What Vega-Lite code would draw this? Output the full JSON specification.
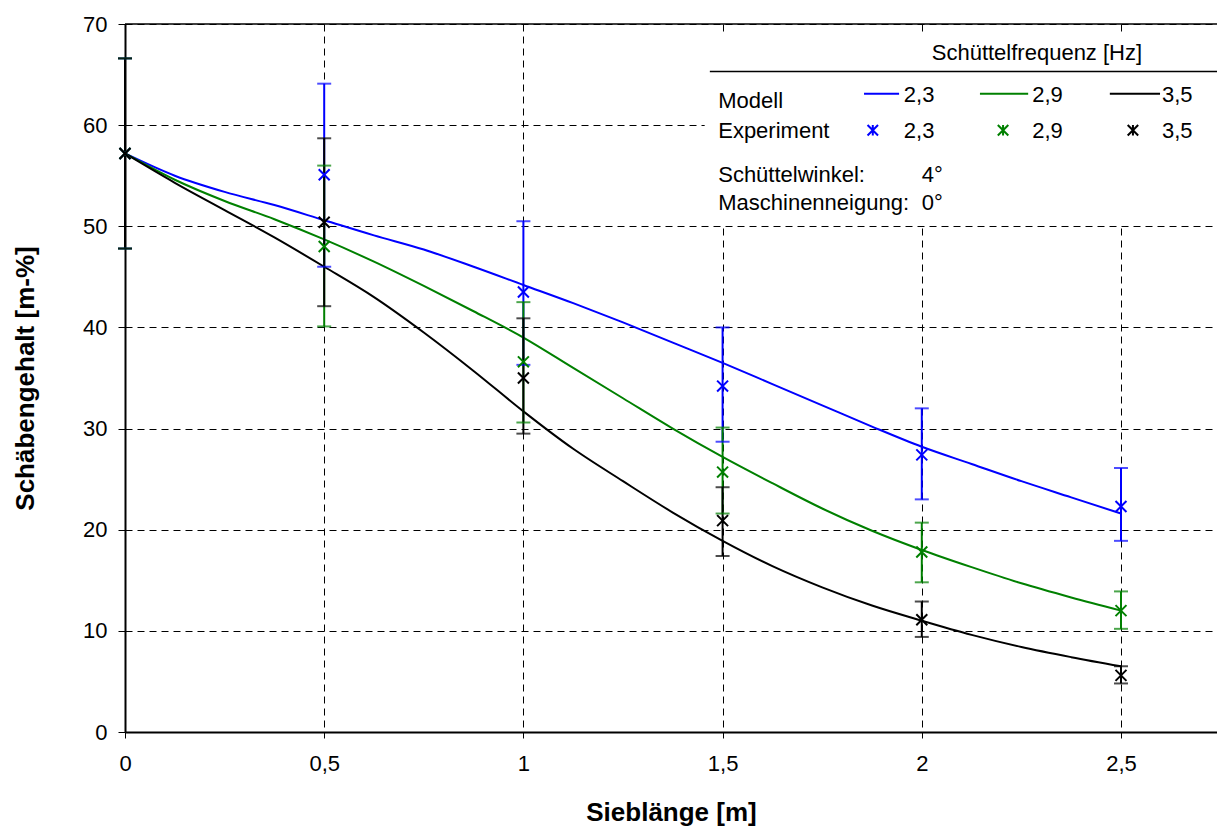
{
  "$schema": "https://vega.github.io/schema/vega-lite/v6.json",
  "width": 1092,
  "height": 708,
  "autosize": "none",
  "padding": {"left": 125, "top": 24, "right": 0, "bottom": 94},
  "background": "white",
  "config": {
    "font": "Liberation Sans",
    "view": {"stroke": null},
    "axis": {
      "grid": true, "gridColor": "#000000", "gridDash": [7, 5], "gridWidth": 1,
      "domainColor": "#000000", "tickColor": "#000000", "labelColor": "#000000", "titleColor": "#000000",
      "labelFontSize": 22, "titleFontSize": 26, "titleFontWeight": "bold",
      "labelFont": "Liberation Sans", "titleFont": "Liberation Sans",
      "labelFlush": false, "labelOverlap": false, "zindex": 0
    }
  },
  "datasets": {
    "model": [
      {"f": "2,3", "x": 0, "y": 57.2}, {"f": "2,3", "x": 0.125, "y": 55.0}, {"f": "2,3", "x": 0.25, "y": 53.4}, {"f": "2,3", "x": 0.375, "y": 52.1},
      {"f": "2,3", "x": 0.5, "y": 50.6}, {"f": "2,3", "x": 0.625, "y": 49.1}, {"f": "2,3", "x": 0.75, "y": 47.7}, {"f": "2,3", "x": 0.875, "y": 46.0},
      {"f": "2,3", "x": 1, "y": 44.2}, {"f": "2,3", "x": 1.125, "y": 42.4}, {"f": "2,3", "x": 1.25, "y": 40.5}, {"f": "2,3", "x": 1.375, "y": 38.5},
      {"f": "2,3", "x": 1.5, "y": 36.5}, {"f": "2,3", "x": 1.625, "y": 34.4}, {"f": "2,3", "x": 1.75, "y": 32.3}, {"f": "2,3", "x": 1.875, "y": 30.2},
      {"f": "2,3", "x": 2, "y": 28.2}, {"f": "2,3", "x": 2.125, "y": 26.5}, {"f": "2,3", "x": 2.25, "y": 24.8}, {"f": "2,3", "x": 2.375, "y": 23.2},
      {"f": "2,3", "x": 2.5, "y": 21.6},
      {"f": "2,9", "x": 0, "y": 57.2}, {"f": "2,9", "x": 0.125, "y": 54.6}, {"f": "2,9", "x": 0.25, "y": 52.5}, {"f": "2,9", "x": 0.375, "y": 50.7},
      {"f": "2,9", "x": 0.5, "y": 48.7}, {"f": "2,9", "x": 0.625, "y": 46.5}, {"f": "2,9", "x": 0.75, "y": 44.1}, {"f": "2,9", "x": 0.875, "y": 41.6},
      {"f": "2,9", "x": 1, "y": 39.0}, {"f": "2,9", "x": 1.125, "y": 36.0}, {"f": "2,9", "x": 1.25, "y": 33.0}, {"f": "2,9", "x": 1.375, "y": 30.0},
      {"f": "2,9", "x": 1.5, "y": 27.2}, {"f": "2,9", "x": 1.625, "y": 24.6}, {"f": "2,9", "x": 1.75, "y": 22.1}, {"f": "2,9", "x": 1.875, "y": 19.9},
      {"f": "2,9", "x": 2, "y": 18.0}, {"f": "2,9", "x": 2.125, "y": 16.3}, {"f": "2,9", "x": 2.25, "y": 14.7}, {"f": "2,9", "x": 2.375, "y": 13.3},
      {"f": "2,9", "x": 2.5, "y": 12.0},
      {"f": "3,5", "x": 0, "y": 57.2}, {"f": "3,5", "x": 0.125, "y": 54.3}, {"f": "3,5", "x": 0.25, "y": 51.6}, {"f": "3,5", "x": 0.375, "y": 48.9},
      {"f": "3,5", "x": 0.5, "y": 46.0}, {"f": "3,5", "x": 0.625, "y": 43.0}, {"f": "3,5", "x": 0.75, "y": 39.5}, {"f": "3,5", "x": 0.875, "y": 35.7},
      {"f": "3,5", "x": 1, "y": 31.7}, {"f": "3,5", "x": 1.125, "y": 28.0}, {"f": "3,5", "x": 1.25, "y": 24.8}, {"f": "3,5", "x": 1.375, "y": 21.7},
      {"f": "3,5", "x": 1.5, "y": 18.9}, {"f": "3,5", "x": 1.625, "y": 16.4}, {"f": "3,5", "x": 1.75, "y": 14.3}, {"f": "3,5", "x": 1.875, "y": 12.5},
      {"f": "3,5", "x": 2, "y": 11.0}, {"f": "3,5", "x": 2.125, "y": 9.6}, {"f": "3,5", "x": 2.25, "y": 8.4}, {"f": "3,5", "x": 2.375, "y": 7.4},
      {"f": "3,5", "x": 2.5, "y": 6.5}
    ],
    "exp": [
      {"f": "2,3", "x": 0, "y": 57.2, "lo": 47.8, "hi": 66.6},
      {"f": "2,3", "x": 0.5, "y": 55.1, "lo": 46.0, "hi": 64.1},
      {"f": "2,3", "x": 1, "y": 43.5, "lo": 36.3, "hi": 50.5},
      {"f": "2,3", "x": 1.5, "y": 34.2, "lo": 28.7, "hi": 40.0},
      {"f": "2,3", "x": 2, "y": 27.4, "lo": 23.0, "hi": 32.0},
      {"f": "2,3", "x": 2.5, "y": 22.3, "lo": 18.9, "hi": 26.1},
      {"f": "2,9", "x": 0, "y": 57.2, "lo": 47.8, "hi": 66.6},
      {"f": "2,9", "x": 0.5, "y": 48.0, "lo": 40.1, "hi": 56.0},
      {"f": "2,9", "x": 1, "y": 36.6, "lo": 30.6, "hi": 42.5},
      {"f": "2,9", "x": 1.5, "y": 25.7, "lo": 21.6, "hi": 30.1},
      {"f": "2,9", "x": 2, "y": 17.8, "lo": 14.8, "hi": 20.7},
      {"f": "2,9", "x": 2.5, "y": 12.0, "lo": 10.2, "hi": 13.9},
      {"f": "3,5", "x": 0, "y": 57.2, "lo": 47.8, "hi": 66.6},
      {"f": "3,5", "x": 0.5, "y": 50.4, "lo": 42.1, "hi": 58.7},
      {"f": "3,5", "x": 1, "y": 35.0, "lo": 29.5, "hi": 40.9},
      {"f": "3,5", "x": 1.5, "y": 20.9, "lo": 17.4, "hi": 24.2},
      {"f": "3,5", "x": 2, "y": 11.1, "lo": 9.4, "hi": 12.9},
      {"f": "3,5", "x": 2.5, "y": 5.6, "lo": 4.8, "hi": 6.5}
    ],
    "legendLines": [
      {"f": "2,3", "x": 1.855, "x2": 1.943, "y": 63.1},
      {"f": "2,9", "x": 2.146, "x2": 2.267, "y": 63.1},
      {"f": "3,5", "x": 2.472, "x2": 2.598, "y": 63.1}
    ],
    "legendMarks": [
      {"f": "2,3", "x": 1.877, "y": 59.5},
      {"f": "2,9", "x": 2.204, "y": 59.5},
      {"f": "3,5", "x": 2.530, "y": 59.5}
    ],
    "legendTexts": [
      {"x": 1.489, "y": 62.4, "t": "Modell"},
      {"x": 1.955, "y": 63.0, "t": "2,3"},
      {"x": 2.277, "y": 63.0, "t": "2,9"},
      {"x": 2.603, "y": 63.0, "t": "3,5"},
      {"x": 1.489, "y": 59.4, "t": "Experiment"},
      {"x": 1.955, "y": 59.4, "t": "2,3"},
      {"x": 2.277, "y": 59.4, "t": "2,9"},
      {"x": 2.603, "y": 59.4, "t": "3,5"},
      {"x": 1.489, "y": 55.1, "t": "Schüttelwinkel:"},
      {"x": 2.0, "y": 55.1, "t": "4°"},
      {"x": 1.489, "y": 52.3, "t": "Maschinenneigung:"},
      {"x": 2.0, "y": 52.3, "t": "0°"}
    ]
  },
  "layer": [
    {
      "data": {"values": [{"x": 1.455, "x2": 2.741, "y": 50.15, "y2": 69.2}]},
      "mark": {"type": "rect", "fill": "white", "stroke": null},
      "encoding": {
        "x": {"field": "x", "type": "quantitative",
              "scale": {"domain": [0, 2.741], "nice": false, "zero": false},
              "title": "Sieblänge [m]",
              "axis": {"values": [0, 0.5, 1, 1.5, 2, 2.5], "labelExpr": "replace(toString(datum.value), '.', ',')",
                       "domainWidth": 2, "tickSize": 6, "tickWidth": 1, "labelPadding": 15,
                       "titleY": 80, "titleBaseline": "middle"}},
        "x2": {"field": "x2"},
        "y": {"field": "y", "type": "quantitative",
              "scale": {"domain": [0, 70], "nice": false, "zero": false},
              "title": "Schäbengehalt [m-%]",
              "axis": {"values": [0, 10, 20, 30, 40, 50, 60, 70], "domainWidth": 2, "tickSize": 7, "tickWidth": 1,
                       "labelPadding": 11, "titleX": -100, "titleY": 354, "titleBaseline": "middle"}},
        "y2": {"field": "y2"}
      }
    },
    {
      "data": {"values": [{"y": 70}]},
      "mark": {"type": "rule", "color": "#000000", "strokeWidth": 1.5},
      "encoding": {
        "y": {"field": "y", "type": "quantitative", "title": "Schäbengehalt [m-%]"}
      }
    },
    {
      "data": {"name": "model"},
      "mark": {"type": "line", "strokeWidth": 2, "interpolate": "monotone"},
      "encoding": {
        "x": {"field": "x", "type": "quantitative", "title": "Sieblänge [m]"},
        "y": {"field": "y", "type": "quantitative", "title": "Schäbengehalt [m-%]"},
        "color": {"field": "f", "type": "nominal", "scale": {"domain": ["2,3", "2,9", "3,5"], "range": ["#0000ff", "#008000", "#000000"]}, "legend": null},
        "detail": {"field": "f"}
      }
    },
    {
      "data": {"name": "exp"},
      "mark": {"type": "rule", "strokeWidth": 2},
      "encoding": {
        "x": {"field": "x", "type": "quantitative", "title": "Sieblänge [m]"},
        "y": {"field": "lo", "type": "quantitative", "title": "Schäbengehalt [m-%]"},
        "y2": {"field": "hi"},
        "color": {"field": "f", "type": "nominal", "legend": null}
      }
    },
    {
      "data": {"name": "exp"},
      "mark": {"type": "tick", "orient": "horizontal", "size": 14, "thickness": 2},
      "encoding": {
        "x": {"field": "x", "type": "quantitative", "title": "Sieblänge [m]"},
        "y": {"field": "lo", "type": "quantitative", "title": "Schäbengehalt [m-%]"},
        "color": {"field": "f", "type": "nominal", "legend": null}
      }
    },
    {
      "data": {"name": "exp"},
      "mark": {"type": "tick", "orient": "horizontal", "size": 14, "thickness": 2},
      "encoding": {
        "x": {"field": "x", "type": "quantitative", "title": "Sieblänge [m]"},
        "y": {"field": "hi", "type": "quantitative", "title": "Schäbengehalt [m-%]"},
        "color": {"field": "f", "type": "nominal", "legend": null}
      }
    },
    {
      "data": {"name": "exp"},
      "mark": {"type": "point", "shape": "M-1,-1L1,1M1,-1L-1,1", "size": 120, "strokeWidth": 2, "filled": false, "opacity": 1},
      "encoding": {
        "x": {"field": "x", "type": "quantitative", "title": "Sieblänge [m]"},
        "y": {"field": "y", "type": "quantitative", "title": "Schäbengehalt [m-%]"},
        "color": {"field": "f", "type": "nominal", "legend": null}
      }
    },
    {
      "data": {"values": [{"x": 1.468, "x2": 2.741, "y": 65.3}]},
      "mark": {"type": "rule", "color": "#000000", "strokeWidth": 1.5},
      "encoding": {
        "x": {"field": "x", "type": "quantitative", "title": "Sieblänge [m]"},
        "x2": {"field": "x2"},
        "y": {"field": "y", "type": "quantitative", "title": "Schäbengehalt [m-%]"}
      }
    },
    {
      "data": {"values": [{"x": 2.289, "y": 67.1, "t": "Schüttelfrequenz [Hz]"}]},
      "mark": {"type": "text", "align": "center", "baseline": "middle", "fontSize": 22, "color": "#000000", "font": "Liberation Sans"},
      "encoding": {
        "x": {"field": "x", "type": "quantitative", "title": "Sieblänge [m]"},
        "y": {"field": "y", "type": "quantitative", "title": "Schäbengehalt [m-%]"},
        "text": {"field": "t"}
      }
    },
    {
      "data": {"name": "legendLines"},
      "mark": {"type": "rule", "strokeWidth": 2},
      "encoding": {
        "x": {"field": "x", "type": "quantitative", "title": "Sieblänge [m]"},
        "x2": {"field": "x2"},
        "y": {"field": "y", "type": "quantitative", "title": "Schäbengehalt [m-%]"},
        "color": {"field": "f", "type": "nominal", "legend": null}
      }
    },
    {
      "data": {"name": "legendMarks"},
      "mark": {"type": "point", "shape": "M-1,-1L1,1M1,-1L-1,1M0,-1L0,1", "size": 110, "strokeWidth": 2, "filled": false, "opacity": 1},
      "encoding": {
        "x": {"field": "x", "type": "quantitative", "title": "Sieblänge [m]"},
        "y": {"field": "y", "type": "quantitative", "title": "Schäbengehalt [m-%]"},
        "color": {"field": "f", "type": "nominal", "legend": null}
      }
    },
    {
      "data": {"name": "legendTexts"},
      "mark": {"type": "text", "align": "left", "baseline": "middle", "fontSize": 22, "color": "#000000", "font": "Liberation Sans"},
      "encoding": {
        "x": {"field": "x", "type": "quantitative", "title": "Sieblänge [m]"},
        "y": {"field": "y", "type": "quantitative", "title": "Schäbengehalt [m-%]"},
        "text": {"field": "t"}
      }
    }
  ]
}
